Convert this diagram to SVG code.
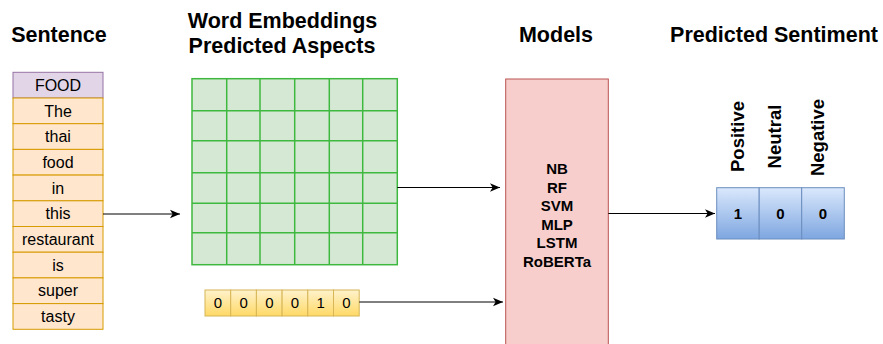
<svg xmlns="http://www.w3.org/2000/svg" width="883" height="344" viewBox="0 0 883 344">
  <defs>
    <marker id="arrow" viewBox="0 0 10 10" refX="10" refY="5" markerWidth="10" markerHeight="10" markerUnits="userSpaceOnUse" orient="auto">
      <path d="M0,0.8 L10,5 L0,9.2 L2.6,5 z" fill="#000"/>
    </marker>
    <linearGradient id="gYellow" x1="0" y1="0" x2="0" y2="1">
      <stop offset="0" stop-color="#fff2cc"/>
      <stop offset="1" stop-color="#ffd966"/>
    </linearGradient>
    <linearGradient id="gBlue" x1="0" y1="0" x2="0" y2="1">
      <stop offset="0" stop-color="#dae8fc"/>
      <stop offset="1" stop-color="#7ea6e0"/>
    </linearGradient>
  </defs>
  <style>
    text { font-family: "Liberation Sans", Arial, sans-serif; fill: #000; }
    .head { font-size: 21.5px; font-weight: bold; text-anchor: middle; }
    .word { font-size: 16px; text-anchor: middle; }
    .cell { fill: #ffe6cc; stroke: #d79b00; stroke-width: 1; }
    .aspect { fill: #e1d5e7; stroke: #9673a6; stroke-width: 1; }
    .grid { fill: #d5e8d4; stroke: #3fb83f; stroke-width: 1.5; }
    .hot { fill: url(#gYellow); stroke: #d6b656; stroke-width: 1; }
    .hotText { font-size: 15px; text-anchor: middle; }
    .model { fill: #f8cecc; stroke: #b85450; stroke-width: 1; }
    .modelText { font-size: 15px; font-weight: bold; text-anchor: middle; }
    .out { fill: url(#gBlue); stroke: #6c8ebf; stroke-width: 1; }
    .outText { font-size: 15px; font-weight: bold; text-anchor: middle; }
    .label { font-size: 18.5px; font-weight: bold; text-anchor: middle; }
    .edge { stroke: #000; stroke-width: 1; fill: none; marker-end: url(#arrow); }
  </style>
  <rect width="883" height="344" fill="#fff"/>

  <!-- column headings -->
  <g id="headings">
    <text class="head" x="59" y="41.5">Sentence</text>
    <text class="head" x="282.5" y="28.3">Word Embeddings</text>
    <text class="head" x="282" y="53.3">Predicted Aspects</text>
    <text class="head" x="556" y="41.5">Models</text>
    <text class="head" x="774" y="41.5">Predicted Sentiment</text>
  </g>

  <!-- input sentence, one token per row -->
  <g id="sentence">
    <rect class="aspect" x="13" y="72.3" width="90" height="25.7"/>
    <rect class="cell" x="13" y="98" width="90" height="25.7"/>
    <rect class="cell" x="13" y="123.7" width="90" height="25.7"/>
    <rect class="cell" x="13" y="149.4" width="90" height="25.7"/>
    <rect class="cell" x="13" y="175.1" width="90" height="25.7"/>
    <rect class="cell" x="13" y="200.8" width="90" height="25.7"/>
    <rect class="cell" x="13" y="226.5" width="90" height="25.7"/>
    <rect class="cell" x="13" y="252.2" width="90" height="25.7"/>
    <rect class="cell" x="13" y="277.9" width="90" height="25.7"/>
    <rect class="cell" x="13" y="303.6" width="90" height="25.7"/>
    <text class="word" x="58" y="90.8">FOOD</text>
    <text class="word" x="58" y="116.5">The</text>
    <text class="word" x="58" y="142.2">thai</text>
    <text class="word" x="58" y="167.9">food</text>
    <text class="word" x="58" y="193.6">in</text>
    <text class="word" x="58" y="219.3">this</text>
    <text class="word" x="58" y="245">restaurant</text>
    <text class="word" x="58" y="270.7">is</text>
    <text class="word" x="58" y="296.4">super</text>
    <text class="word" x="58" y="322.1">tasty</text>
  </g>

  <!-- embedding matrix -->
  <g id="embeddings">
    <rect class="grid" x="192" y="78.7" width="205.3" height="186"/>
    <path class="grid" fill="none" d="M226.7,78.7 V264.7 M260,78.7 V264.7 M294.7,78.7 V264.7 M329.3,78.7 V264.7 M362.7,78.7 V264.7
             M192,110.7 H397.3 M192,140.7 H397.3 M192,172.7 H397.3 M192,203.3 H397.3 M192,232.7 H397.3"/>
  </g>

  <!-- one-hot aspect vector -->
  <g id="aspects">
    <rect class="hot" x="205" y="290" width="25.7" height="26"/>
    <rect class="hot" x="230.7" y="290" width="25.7" height="26"/>
    <rect class="hot" x="256.4" y="290" width="25.7" height="26"/>
    <rect class="hot" x="282.1" y="290" width="25.7" height="26"/>
    <rect class="hot" x="307.8" y="290" width="25.7" height="26"/>
    <rect class="hot" x="333.5" y="290" width="25.7" height="26"/>
    <text class="hotText" x="217.9" y="308.3">0</text>
    <text class="hotText" x="243.6" y="308.3">0</text>
    <text class="hotText" x="269.3" y="308.3">0</text>
    <text class="hotText" x="295" y="308.3">0</text>
    <text class="hotText" x="320.7" y="308.3">1</text>
    <text class="hotText" x="346.4" y="308.3">0</text>
  </g>

  <!-- classifier block -->
  <g id="models">
    <rect class="model" x="505.7" y="79" width="102.6" height="280"/>
    <text class="modelText" x="557" y="174">NB</text>
    <text class="modelText" x="557" y="192.5">RF</text>
    <text class="modelText" x="557" y="211">SVM</text>
    <text class="modelText" x="557" y="229.5">MLP</text>
    <text class="modelText" x="557" y="248">LSTM</text>
    <text class="modelText" x="557" y="266.5">RoBERTa</text>
  </g>

  <!-- sentiment output -->
  <g id="sentiment">
    <rect class="out" x="716.7" y="187.7" width="42.5" height="51.3"/>
    <rect class="out" x="759.2" y="187.7" width="42.5" height="51.3"/>
    <rect class="out" x="801.7" y="187.7" width="42.6" height="51.3"/>
    <text class="outText" x="738" y="218.5">1</text>
    <text class="outText" x="780.5" y="218.5">0</text>
    <text class="outText" x="823" y="218.5">0</text>
    <text class="label" transform="translate(743.5,136.5) rotate(-90)">Positive</text>
    <text class="label" transform="translate(781,136.5) rotate(-90)">Neutral</text>
    <text class="label" transform="translate(824,137.5) rotate(-90)">Negative</text>
  </g>

  <!-- connectors -->
  <g id="connectors">
    <path class="edge" d="M103,214 H180"/>
    <path class="edge" d="M397.3,187.5 H500"/>
    <path class="edge" d="M359.2,302 H503"/>
    <path class="edge" d="M608.3,213.5 H715"/>
  </g>
</svg>
